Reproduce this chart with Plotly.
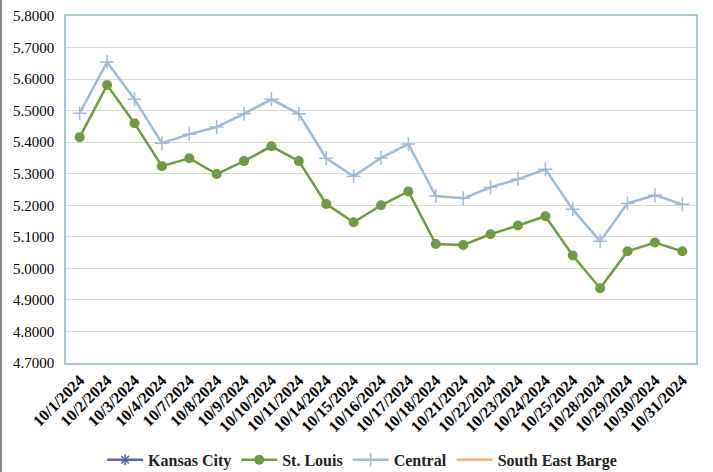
import plotly.graph_objects as go

dates = ["10/1/2024", "10/2/2024", "10/3/2024", "10/4/2024", "10/7/2024", "10/8/2024",
         "10/9/2024", "10/10/2024", "10/11/2024", "10/14/2024", "10/15/2024", "10/16/2024",
         "10/17/2024", "10/18/2024", "10/21/2024", "10/22/2024", "10/23/2024", "10/24/2024",
         "10/25/2024", "10/28/2024", "10/29/2024", "10/30/2024", "10/31/2024"]

central = [5.492, 5.654, 5.536, 5.397, 5.425, 5.448, 5.490, 5.536, 5.490, 5.349, 5.292, 5.350,
           5.394, 5.229, 5.222, 5.257, 5.283, 5.314, 5.187, 5.086, 5.206, 5.232, 5.203]
st_louis = [5.416, 5.581, 5.460, 5.324, 5.349, 5.299, 5.340, 5.387, 5.340, 5.204, 5.146, 5.200,
            5.244, 5.077, 5.074, 5.108, 5.136, 5.165, 5.041, 4.937, 5.054, 5.082, 5.054]
kansas_city = [None] * len(dates)
south_east_barge = [None] * len(dates)

y_ticks = [4.7, 4.8, 4.9, 5.0, 5.1, 5.2, 5.3, 5.4, 5.5, 5.6, 5.7, 5.8]

font_family = "Liberation Serif, Times New Roman, serif"

fig = go.Figure()
fig.add_trace(go.Scatter(x=dates, y=kansas_city, name="<b>Kansas City</b>", mode="lines+markers",
                         line=dict(color="#4a6fa8", width=2.5),
                         marker=dict(symbol="asterisk-open", size=9, color="#4a6fa8",
                                     line=dict(color="#4a6fa8", width=1.5))))
fig.add_trace(go.Scatter(x=dates, y=st_louis, name="<b>St. Louis</b>", mode="lines+markers",
                         line=dict(color="#6e9c3e", width=2.5),
                         marker=dict(symbol="circle", size=10, color="#6e9c3e")))
fig.add_trace(go.Scatter(x=dates, y=central, name="<b>Central</b>", mode="lines+markers",
                         line=dict(color="#9fbadb", width=2.5),
                         marker=dict(symbol="cross-thin-open", size=10, color="#9fbadb",
                                     line=dict(color="#9fbadb", width=1.5))))
fig.add_trace(go.Scatter(x=dates, y=south_east_barge, name="<b>South East Barge</b>", mode="lines",
                         line=dict(color="#f4b183", width=2.5)))

fig.update_layout(
    width=713, height=472,
    margin=dict(l=66, r=17, t=16, b=109, autoexpand=False),
    paper_bgcolor="white", plot_bgcolor="white",
    font=dict(family=font_family, size=13, color="black"),
    showlegend=True,
    legend=dict(orientation="h", x=0.47, xanchor="center", y=-0.23, yanchor="top",
                font=dict(family=font_family, size=16, color="#222"),
                itemwidth=36, tracegroupgap=0),
    shapes=[dict(type="line", xref="paper", yref="paper",
                 x0=-65/630, x1=-65/630, y0=-109/347, y1=1 + 16/347,
                 line=dict(color="#888888", width=2))],
)
fig.update_xaxes(type="category", range=[-0.5, len(dates) - 0.5], tickangle=-45,
                 showgrid=False, automargin=False,
                 showline=True, mirror=True, linecolor="#a8c6cf", linewidth=1.5,
                 ticks="", tickfont=dict(family=font_family, size=16, color="black"),
                 tickprefix="<b>", ticksuffix="</b>")
fig.update_yaxes(range=[4.7, 5.8], tickvals=y_ticks, tickformat=".4f", automargin=False,
                 showgrid=True, gridcolor="#d9d9d9", gridwidth=1,
                 showline=True, mirror=True, linecolor="#a8c6cf", linewidth=1.5,
                 ticks="", zeroline=False, ticklabelstandoff=7,
                 tickfont=dict(family=font_family, size=15, color="black"),
                 tickprefix="<b>", ticksuffix="</b>")

fig.write_html("out.html", config={"displayModeBar": False},
               post_script="document.body.style.margin='0';document.body.style.overflow='hidden';")
